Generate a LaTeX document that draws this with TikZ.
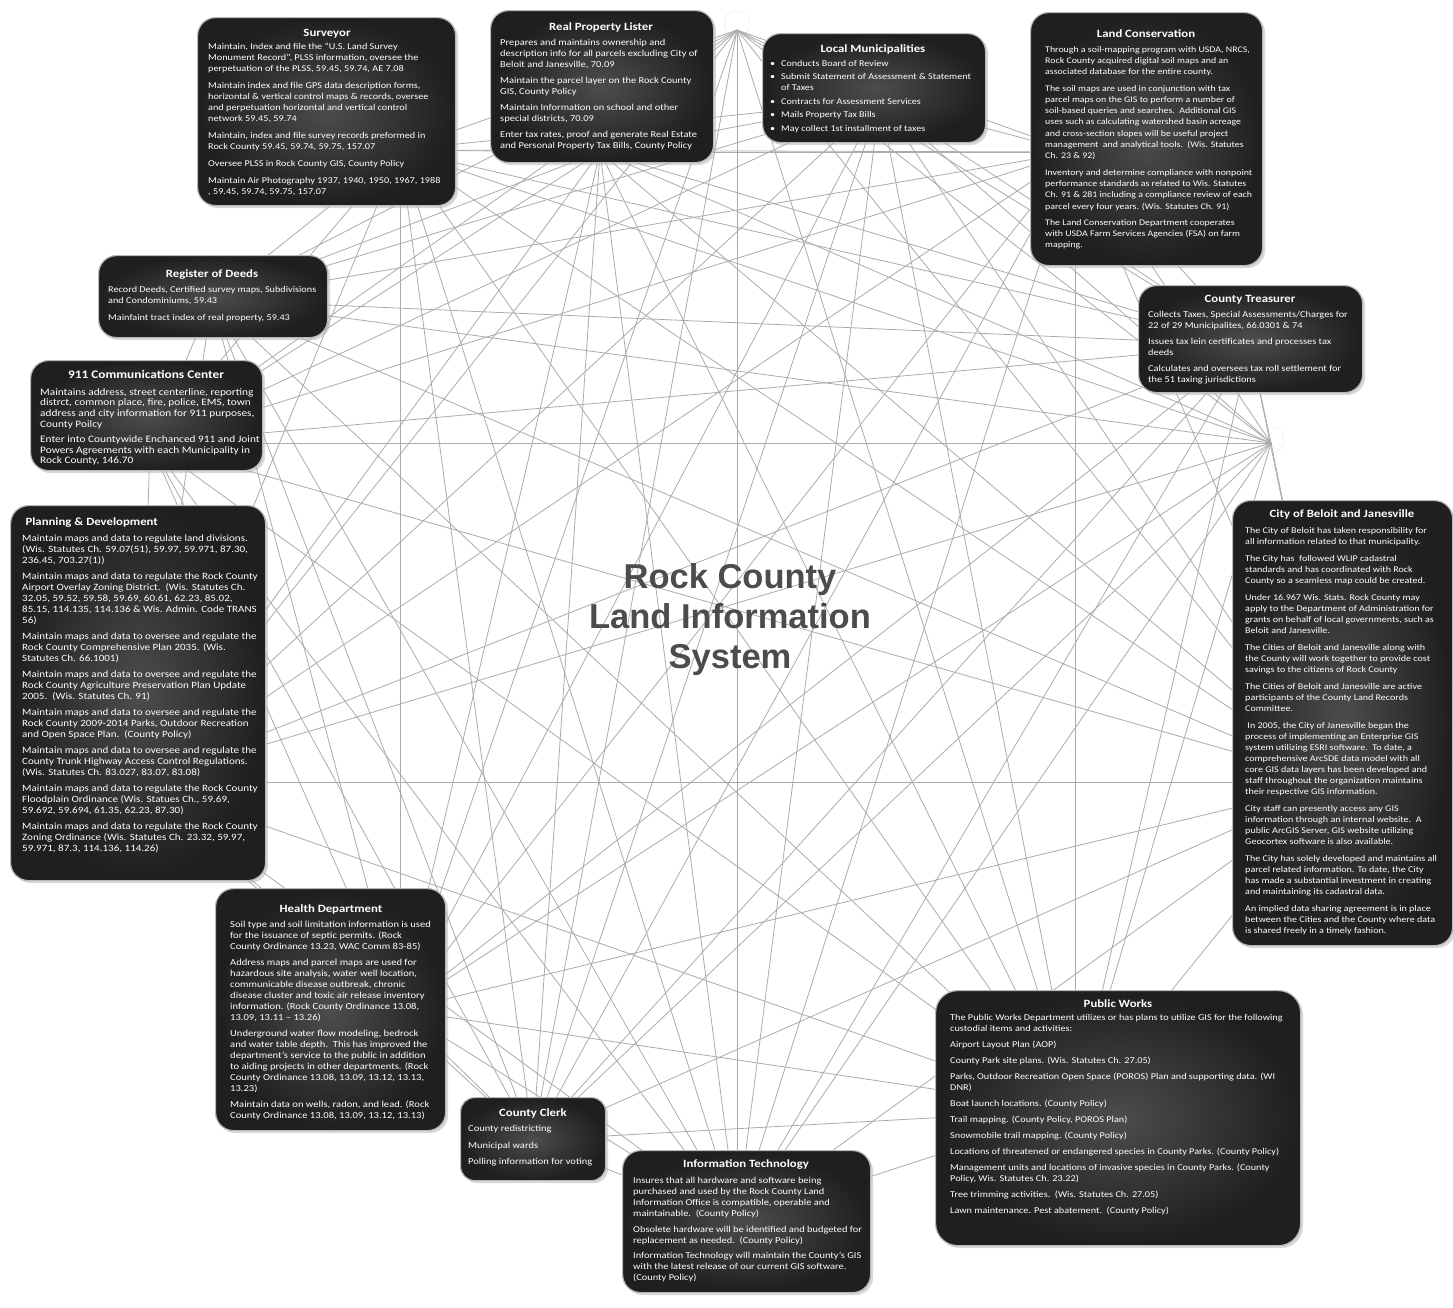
\documentclass[tikz,border=0pt]{standalone}
\usepackage{fontspec}
\newfontfamily\carlito{Carlito}[FakeStretch=1.15]
\newfontfamily\libsans{Liberation Sans}
\usetikzlibrary{shadows,calc}
\newcommand{\pbrk}{\\[5pt]}
\newcommand{\bul}{\makebox[11pt][l]{\textbullet}}
\newcommand{\bulc}{\hspace*{11pt}}
\begin{document}
\begin{tikzpicture}[x=1pt,y=-1pt]
\tikzset{
 conn/.style={draw=black!33, line width=0.8pt},
 box/.style={anchor=north west, inner sep=0pt, rounded corners=18pt, draw=black!28, line width=1.2pt, inner color=black!70, outer color=black!88, drop shadow={shadow xshift=2.5pt, shadow yshift=-2.5pt, fill=black!30}},
 ttl/.style={anchor=base, text=white, font=\carlito\bfseries\fontsize{11.1}{12}\selectfont},
 body/.style={anchor=north west, inner sep=0pt, align=left, text=white},
 hub/.style={circle, draw=black!25, densely dotted, minimum size=26pt, inner sep=0pt},
 ctitle/.style={align=center, text=black!70, font=\libsans\bfseries\fontsize{34.5}{40}\selectfont}
}
\useasboundingbox (0,0) rectangle (1453,1307);
\fill[white] (0,0) rectangle (1453,1307);

% anchor points of the web
\coordinate (at)  at (737,30);
\coordinate (alm) at (880,100);
\coordinate (alc) at (1075,152);
\coordinate (act) at (1250,345);
\coordinate (ar)  at (1271,443);
\coordinate (acb) at (1340,782);
\coordinate (apw) at (1075,1110);
\coordinate (ait) at (737,1220);
\coordinate (acc) at (533,1140);
\coordinate (ahd) at (400,1010);
\coordinate (apd) at (140,782);
\coordinate (ann) at (150,443);
\coordinate (ard) at (212,300);
\coordinate (asv) at (400,150);
\coordinate (arp) at (600,152);

\foreach \p [count=\i] in {t,lm,lc,ct,r,cb,pw,it,cc,hd,pd,nn,rd,sv,rp}{
  \foreach \q [count=\j] in {t,lm,lc,ct,r,cb,pw,it,cc,hd,pd,nn,rd,sv,rp}{
    \ifnum\j>\i \draw[conn] (a\p) -- (a\q); \fi
  }
}
\node[hub] (hubt) at (737,24) {};
\node[hub] (hubr) at (1271,440) {};

\node[ctitle] (title) at (730,620) {Rock County\\Land Information\\System};

% Surveyor
\node[box, minimum width=258pt, minimum height=188pt] (sv) at (197,17) {};
\node[ttl] (svt) at (327,36) {Surveyor};
\node[body, font=\carlito\fontsize{8.9}{11}\selectfont] (svb) at (208,43) {Maintain, Index and file the “U.S. Land Survey\\
Monument Record”, PLSS information, oversee the\\
perpetuation of the PLSS, 59.45, 59.74, AE 7.08\\[6pt]
Maintain index and file GPS data description forms,\\
horizontal \& vertical control maps \& records, oversee\\
and perpetuation horizontal and vertical control\\
network 59.45, 59.74\\[6pt]
Maintain, index and file survey records preformed in\\
Rock County 59.45, 59.74, 59.75, 157.07\\[6pt]
Oversee PLSS in Rock County GIS, County Policy\\[6pt]
Maintain Air Photography 1937, 1940, 1950, 1967, 1988\\
, 59.45, 59.74, 59.75, 157.07};

% Real Property Lister
\node[box, minimum width=223pt, minimum height=152pt] (rp) at (490,10) {};
\node[ttl] (rpt) at (601,30) {Real Property Lister};
\node[body, font=\carlito\fontsize{9.1}{11}\selectfont] (rpb) at (500,39) {Prepares and maintains ownership and\\
description info for all parcels excluding City of\\
Beloit and Janesville, 70.09\pbrk
Maintain the parcel layer on the Rock County\\
GIS, County Policy\pbrk
Maintain Information on school and other\\
special districts, 70.09\pbrk
Enter tax rates, proof and generate Real Estate\\
and Personal Property Tax Bills, County Policy};

% Local Municipalities
\node[box, minimum width=223pt, minimum height=109pt] (lm) at (762,33) {};
\node[ttl] (lmt) at (873,52) {Local Municipalities};
\node[body, font=\carlito\fontsize{8.8}{11}\selectfont] (lmb) at (770,60) {\bul Conducts Board of Review\\[2.5pt]
\bul Submit Statement of Assessment \& Statement\\
\bulc of Taxes\\[2.5pt]
\bul Contracts for Assessment Services\\[2.5pt]
\bul Mails Property Tax Bills\\[2.5pt]
\bul May collect 1st installment of taxes};

% Land Conservation
\node[box, minimum width=232pt, minimum height=253pt] (lc) at (1030,12) {};
\node[ttl] (lct) at (1146,37) {Land Conservation};
\node[body, font=\carlito\fontsize{8.6}{11.3}\selectfont] (lcb) at (1045,46) {Through a soil-mapping program with USDA, NRCS,\\
Rock County acquired digital soil maps and an\\
associated database for the entire county.\pbrk
The soil maps are used in conjunction with tax\\
parcel maps on the GIS to perform a number of\\
soil-based queries and searches.\ \ Additional GIS\\
uses such as calculating watershed basin acreage\\
and cross-section slopes will be useful project\\
management\ \ and analytical tools.\ \ (Wis. Statutes\\
Ch. 23 \& 92)\pbrk
Inventory and determine compliance with nonpoint\\
performance standards as related to Wis. Statutes\\
Ch. 91 \& 281 including a compliance review of each\\
parcel every four years. (Wis. Statutes Ch. 91)\pbrk
The Land Conservation Department cooperates\\
with USDA Farm Services Agencies (FSA) on farm\\
mapping.};

% Register of Deeds
\node[box, minimum width=229pt, minimum height=82pt] (rd) at (98,255) {};
\node[ttl] (rdt) at (212,277) {Register of Deeds};
\node[body, font=\carlito\fontsize{8.9}{11}\selectfont] (rdb) at (108,286) {Record Deeds, Certified survey maps, Subdivisions\\
and Condominiums, 59.43\\[6pt]
Mainfaint tract index of real property, 59.43};

% 911 Communications Center
\node[box, minimum width=232pt, minimum height=110pt] (nn) at (30,360) {};
\node[ttl, font=\carlito\bfseries\fontsize{11.6}{12}\selectfont] (nnt) at (146,378) {911 Communications Center};
\node[body, font=\carlito\fontsize{9.85}{10.8}\selectfont] (nnb) at (40,388) {Maintains address, street centerline, reporting\\
distrct, common place, fire, police, EMS, town\\
address and city information for 911 purposes,\\
County Poilcy\\[4pt]
Enter into Countywide Enchanced 911 and Joint\\
Powers Agreements with each Municipality in\\
Rock County, 146.70};

% County Treasurer
\node[box, minimum width=224pt, minimum height=107pt] (ct) at (1138,285) {};
\node[ttl] (ctt) at (1250,302) {County Treasurer};
\node[body, font=\carlito\fontsize{9.0}{11}\selectfont] (ctb) at (1148,311) {Collects Taxes, Special Assessments/Charges for\\
22 of 29 Municipalites, 66.0301 \& 74\pbrk
Issues tax lein certificates and processes tax\\
deeds\pbrk
Calculates and oversees tax roll settlement for\\
the 51 taxing jurisdictions};

% Planning & Development
\node[box, minimum width=255pt, minimum height=375pt] (pd) at (10,505) {};
\node[ttl, anchor=base west] (pdt) at (22,525) {Planning \& Development};
\node[body, font=\carlito\fontsize{9.6}{11}\selectfont] (pdb) at (22,535) {Maintain maps and data to regulate land divisions.\\
(Wis. Statutes Ch. 59.07(51), 59.97, 59.971, 87.30,\\
236.45, 703.27(1))\pbrk
Maintain maps and data to regulate the Rock County\\
Airport Overlay Zoning District.\ \ (Wis. Statutes Ch.\\
32.05, 59.52, 59.58, 59.69, 60.61, 62.23, 85.02,\\
85.15, 114.135, 114.136 \& Wis. Admin. Code TRANS\\
56)\pbrk
Maintain maps and data to oversee and regulate the\\
Rock County Comprehensive Plan 2035. (Wis.\\
Statutes Ch. 66.1001)\pbrk
Maintain maps and data to oversee and regulate the\\
Rock County Agriculture Preservation Plan Update\\
2005.\ \ (Wis. Statutes Ch. 91)\pbrk
Maintain maps and data to oversee and regulate the\\
Rock County 2009-2014 Parks, Outdoor Recreation\\
and Open Space Plan.\ \ (County Policy)\pbrk
Maintain maps and data to oversee and regulate the\\
County Trunk Highway Access Control Regulations.\\
(Wis. Statutes Ch. 83.027, 83.07, 83.08)\pbrk
Maintain maps and data to regulate the Rock County\\
Floodplain Ordinance (Wis. Statues Ch., 59.69,\\
59.692, 59.694, 61.35, 62.23, 87.30)\pbrk
Maintain maps and data to regulate the Rock County\\
Zoning Ordinance (Wis. Statutes Ch. 23.32, 59.97,\\
59.971, 87.3, 114.136, 114.26)};

% City of Beloit and Janesville
\node[box, minimum width=220pt, minimum height=445pt] (cb) at (1232,500) {};
\node[ttl] (cbt) at (1342,517) {City of Beloit and Janesville};
\node[body, font=\carlito\fontsize{8.75}{11}\selectfont] (cbb) at (1245,527) {The City of Beloit has taken responsibility for\\
all information related to that municipality.\\[6pt]
The City has\ \ followed WLIP cadastral\\
standards and has coordinated with Rock\\
County so a seamless map could be created.\\[6pt]
Under 16.967 Wis. Stats. Rock County may\\
apply to the Department of Administration for\\
grants on behalf of local governments, such as\\
Beloit and Janesville.\\[6pt]
The Cities of Beloit and Janesville along with\\
the County will work together to provide cost\\
savings to the citizens of Rock County\\[6pt]
The Cities of Beloit and Janesville are active\\
participants of the County Land Records\\
Committee.\\[6pt]
\ In 2005, the City of Janesville began the\\
process of implementing an Enterprise GIS\\
system utilizing ESRI software.\ \ To date, a\\
comprehensive ArcSDE data model with all\\
core GIS data layers has been developed and\\
staff throughout the organization maintains\\
their respective GIS information.\\[6pt]
City staff can presently access any GIS\\
information through an internal website.\ \ A\\
public ArcGIS Server, GIS website utilizing\\
Geocortex software is also available.\\[6pt]
The City has solely developed and maintains all\\
parcel related information. To date, the City\\
has made a substantial investment in creating\\
and maintaining its cadastral data.\\[6pt]
An implied data sharing agreement is in place\\
between the Cities and the County where data\\
is shared freely in a timely fashion.};

% Health Department
\node[box, minimum width=230pt, minimum height=242pt] (hd) at (215,888) {};
\node[ttl] (hdt) at (331,912) {Health Department};
\node[body, font=\carlito\fontsize{9.2}{11}\selectfont] (hdb) at (230,921) {Soil type and soil limitation information is used\\
for the issuance of septic permits. (Rock\\
County Ordinance 13.23, WAC Comm 83-85)\pbrk
Address maps and parcel maps are used for\\
hazardous site analysis, water well location,\\
communicable disease outbreak, chronic\\
disease cluster and toxic air release inventory\\
information. (Rock County Ordinance 13.08,\\
13.09, 13.11 – 13.26)\pbrk
Underground water flow modeling, bedrock\\
and water table depth.\ \ This has improved the\\
department’s service to the public in addition\\
to aiding projects in other departments. (Rock\\
County Ordinance 13.08, 13.09, 13.12, 13.13,\\
13.23)\pbrk
Maintain data on wells, radon, and lead. (Rock\\
County Ordinance 13.08, 13.09, 13.12, 13.13)};

% County Clerk
\node[box, minimum width=145pt, minimum height=83pt, rounded corners=14pt] (cc) at (460,1097) {};
\node[ttl] (cct) at (533,1116) {County Clerk};
\node[body, font=\carlito\fontsize{9.1}{11}\selectfont] (ccb) at (468,1125) {County redistricting\\[5.5pt]
Municipal wards\\[5.5pt]
Polling information for voting};

% Information Technology
\node[box, minimum width=248pt, minimum height=142pt] (it) at (622,1150) {};
\node[ttl] (itt) at (746,1167) {Information Technology};
\node[body, font=\carlito\fontsize{9.05}{11}\selectfont] (itb) at (633,1177) {Insures that all hardware and software being\\
purchased and used by the Rock County Land\\
Information Office is compatible, operable and\\
maintainable.\ \ (County Policy)\\[4.5pt]
Obsolete hardware will be identified and budgeted for\\
replacement as needed.\ \ (County Policy)\\[4.5pt]
Information Technology will maintain the County’s GIS\\
with the latest release of our current GIS software.\\
(County Policy)};

% Public Works
\node[box, minimum width=365pt, minimum height=255pt, rounded corners=22pt] (pw) at (935,990) {};
\node[ttl] (pwt) at (1118,1007) {Public Works};
\node[body, font=\carlito\fontsize{8.9}{11}\selectfont] (pwb) at (950,1014) {The Public Works Department utilizes or has plans to utilize GIS for the following\\
custodial items and activities:\pbrk
Airport Layout Plan (AOP)\pbrk
County Park site plans. (Wis. Statutes Ch. 27.05)\pbrk
Parks, Outdoor Recreation Open Space (POROS) Plan and supporting data. (WI\\
DNR)\pbrk
Boat launch locations. (County Policy)\pbrk
Trail mapping. (County Policy, POROS Plan)\pbrk
Snowmobile trail mapping. (County Policy)\pbrk
Locations of threatened or endangered species in County Parks. (County Policy)\pbrk
Management units and locations of invasive species in County Parks. (County\\
Policy, Wis. Statutes Ch. 23.22)\pbrk
Tree trimming activities.\ \ (Wis. Statutes Ch. 27.05)\pbrk
Lawn maintenance. Pest abatement.\ \ (County Policy)};
\end{tikzpicture}
\end{document}
